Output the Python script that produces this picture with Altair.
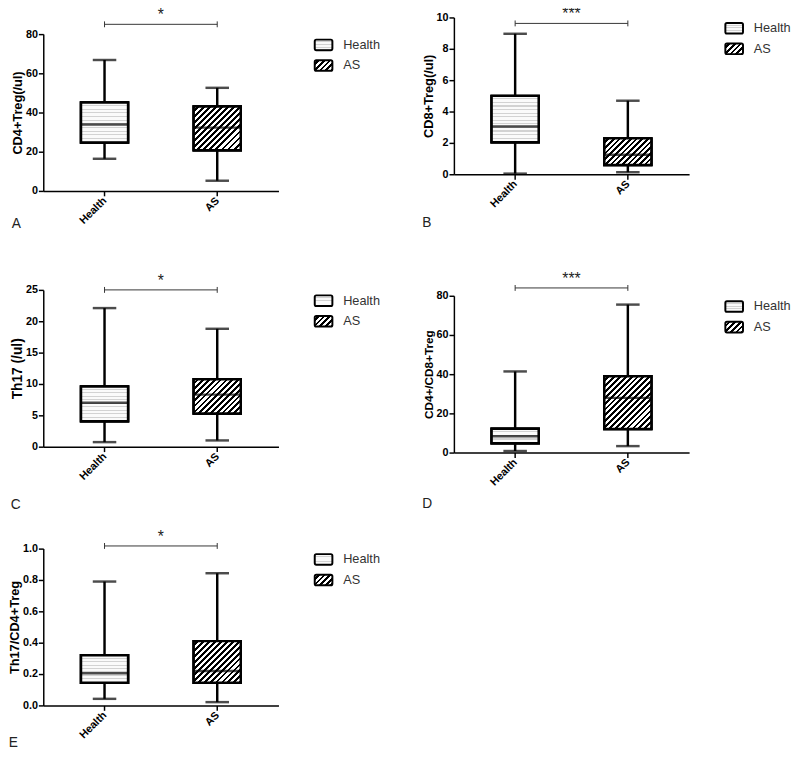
import altair as alt
import pandas as pd

F = "Liberation Sans"

groups = ["Health", "AS"]
x_pos = [1, 2]
panel_letters = ["A", "B", "C", "D", "E"]
letter_offsets = [-8, 8, 17, 10, -4]
y_titles = ["CD4+Treg(/ul)", "CD8+Treg(/ul)", "Th17  (/ul)", "CD4+/CD8+Treg", "Th17/CD4+Treg"]
y_title_sizes = [13, 13, 14, 12, 13]
y_max = [80, 10, 25, 80, 1.0]
y_ticks = [[0, 20, 40, 60, 80], [0, 2, 4, 6, 8, 10], [0, 5, 10, 15, 20, 25],
           [0, 20, 40, 60, 80], [0.0, 0.2, 0.4, 0.6, 0.8, 1.0]]
y_formats = ["d", "d", "d", "d", ".1f"]

# values per panel: [Health, AS]
mins = [[16.4, 5.2], [0.04, 0.13], [0.73, 1.0], [0.8, 3.3], [0.042, 0.021]]
q1s = [[24.7, 20.7], [2.04, 0.59], [4.07, 5.3], [4.8, 12.0], [0.144, 0.144]]
meds = [[33.9, 32.3], [3.04, 1.25], [7.0, 8.3], [8.3, 27.9], [0.205, 0.22]]
q3s = [[45.1, 43.1], [5.0, 2.29], [9.6, 10.75], [12.2, 38.9], [0.32, 0.41]]
maxs = [[66.8, 52.6], [8.96, 4.69], [22.1, 18.8], [41.4, 75.5], [0.79, 0.843]]
sig_labels = ["*", "***", "*", "***", "*"]
sig_y = [85.0, 9.62, 25.0, 84.0, 1.017]

PLOT_W, PLOT_H = 240, 160
BOX_W, CAP_W, LW = 48, 24, 2.5


def hatch(w, h, pitch=6.0, black=0.47):
    r = h / w
    a = (1 + r) / (1 + r * r)
    n = max(1, round((w + h) / pitch))
    stops = []
    for k in range(n):
        s0, s1, s2 = k / n, (k + 1 - black) / n, (k + 1) / n
        stops += [{"offset": s0, "color": "white"}, {"offset": s1, "color": "white"},
                  {"offset": s1, "color": "black"}, {"offset": s2, "color": "black"}]
    return {"gradient": "linear", "x1": 0, "y1": 0, "x2": a, "y2": a * r, "stops": stops}


def dots(h, pitch=3.6, frac=0.3, col="#d2d2d2"):
    n = max(1, round(h / pitch))
    stops = []
    for k in range(n):
        s0, s1, s2 = k / n, (k + 1 - frac) / n, (k + 1) / n
        stops += [{"offset": s0, "color": "#fafafa"}, {"offset": s1, "color": "#fafafa"},
                  {"offset": s1, "color": col}, {"offset": s2, "color": col}]
    return {"gradient": "linear", "x1": 0, "y1": 0, "x2": 0, "y2": 1, "stops": stops}


legend_refs = ["url(#gradient_0) #eeeeee", "url(#gradient_1) #444444"]
SYM_W, SYM_H = 18, 10.8
SYM_PATH = ("M-0.82,-0.6H0.82A0.18,0.18 0 0 1 1,-0.42V0.42A0.18,0.18 0 0 1 0.82,0.6"
            "H-0.82A0.18,0.18 0 0 1 -1,0.42V-0.42A0.18,0.18 0 0 1 -0.82,-0.6Z")


def panel(i):
    df = pd.DataFrame({"group": groups, "x": x_pos, "lo": mins[i], "q1": q1s[i],
                       "med": meds[i], "q3": q3s[i], "hi": maxs[i]})
    sig = pd.DataFrame({"x": [x_pos[0]], "x2": [x_pos[1]],
                        "xm": [(x_pos[0] + x_pos[1]) / 2], "y": [sig_y[i]],
                        "label": [sig_labels[i]]})
    ends = pd.DataFrame({"x": x_pos, "y": [sig_y[i]] * 2})

    label_expr = "[" + ",".join("'" + g + "'" for g in groups) + "][datum.value - 1]"
    xaxis = alt.Axis(values=x_pos, labelExpr=label_expr, title=None, grid=False,
                     labelAngle=-45, labelAlign="right", labelBaseline="middle",
                     labelFont=F, labelFontSize=11, labelFontWeight="bold", labelColor="black",
                     labelPadding=3, domainColor="black", domainWidth=1.5,
                     tickColor="black", tickWidth=1.5, tickSize=5)
    yaxis = alt.Axis(values=y_ticks[i], format=y_formats[i], title=y_titles[i], grid=False,
                     labelFont=F, labelFontSize=11, labelFontWeight="bold", labelColor="black",
                     labelPadding=1, domainColor="black", domainWidth=1.5,
                     tickColor="black", tickWidth=1.5, tickSize=5,
                     titleFont=F, titleFontSize=y_title_sizes[i], titleFontWeight="bold",
                     titleColor="black", titlePadding=1)
    xs = alt.Scale(domain=[0.5, 2.5])
    ys = alt.Scale(domain=[0, y_max[i]], nice=False)

    def X(f):
        return alt.X(f, type="quantitative", scale=xs, axis=xaxis)

    def Y(f):
        return alt.Y(f, type="quantitative", scale=ys, axis=yaxis)

    base = alt.Chart(df)
    h_px = [(q3s[i][k] - q1s[i][k]) / y_max[i] * PLOT_H for k in range(2)]

    whisk = base.mark_rule(color="black", strokeWidth=LW).encode(x=X("x"), y=Y("lo"), y2="hi:Q")
    cap_lo = base.mark_tick(color="black", orient="horizontal", size=CAP_W, thickness=LW).encode(x=X("x"), y=Y("lo"))
    cap_hi = base.mark_tick(color="black", orient="horizontal", size=CAP_W, thickness=LW).encode(x=X("x"), y=Y("hi"))

    def box(k, fill):
        return base.transform_filter(alt.datum.group == groups[k]).mark_bar(
            size=BOX_W, fill=fill, stroke="black", strokeWidth=LW).encode(x=X("x"), y=Y("q1"), y2="q3:Q")

    def_h = box(0, dots(SYM_H, pitch=3.0))
    def_a = box(1, hatch(SYM_W, SYM_H, pitch=5.5))
    carrier = base.mark_bar(size=BOX_W, stroke="black", strokeWidth=LW).encode(
        x=X("x"), y=Y("q1"), y2="q3:Q",
        fill=alt.Fill("group:N", scale=alt.Scale(domain=groups, range=legend_refs),
                      legend=alt.Legend(title=None, orient="right", offset=35,
                                        symbolType=SYM_PATH, symbolSize=324,
                                        symbolStrokeColor="black", symbolStrokeWidth=2,
                                        labelFont=F, labelFontSize=13, labelColor="#333",
                                        labelOffset=10, rowPadding=1, padding=1)))
    box_h = box(0, dots(h_px[0]))
    box_a = box(1, hatch(BOX_W, h_px[1]))
    med = base.mark_tick(color="black", orient="horizontal", size=BOX_W, thickness=LW).encode(x=X("x"), y=Y("med"))

    sbase = alt.Chart(sig)
    srule = sbase.mark_rule(color="#333", strokeWidth=1).encode(x=X("x"), x2="x2:Q", y=Y("y"))
    sends = alt.Chart(ends).mark_point(shape="M0,-1L0,1", size=36, filled=False, color="#333",
                                       strokeWidth=1, opacity=1).encode(x=X("x"), y=Y("y"))
    star = sbase.mark_text(font=F, fontSize=16, dy=-4, baseline="alphabetic", color="#222").encode(
        x=X("xm"), y=Y("y"), text="label:N")

    return alt.layer(whisk, cap_lo, cap_hi, def_h, def_a, carrier, box_h, box_a, med,
                     srule, sends, star).properties(
        width=PLOT_W, height=PLOT_H,
        title=alt.TitleParams(panel_letters[i], orient="bottom", anchor="start", fontSize=14,
                              fontWeight="normal", font=F, color="#222",
                              offset=letter_offsets[i]))


def spacer(h):
    sp = pd.DataFrame({"v": [0]})
    return alt.Chart(sp).mark_point(opacity=0, size=1).encode(
        x=alt.X("v:Q", axis=None, scale=alt.Scale(domain=[0, 1])),
        y=alt.Y("v:Q", axis=None, scale=alt.Scale(domain=[0, 1]))).properties(width=1, height=h)


def indep(c):
    return c.resolve_scale(fill="independent").resolve_legend(fill="independent")


top_left = indep(alt.vconcat(panel(0), panel(2), spacing=42))
left_inner = indep(alt.vconcat(top_left, panel(4), spacing=17))
right_inner = indep(alt.vconcat(panel(1), panel(3), spacing=40))
left = indep(alt.vconcat(spacer(4), left_inner, spacing=0))
right = indep(alt.vconcat(spacer(3), right_inner, spacing=0))
chart = indep(alt.hconcat(left, right, spacing=41)).properties(
    padding={"left": 0, "top": -13, "right": 0, "bottom": 0}).configure_view(stroke=None)

chart.save("out.html", embed_options={"renderer": "svg", "actions": False})
